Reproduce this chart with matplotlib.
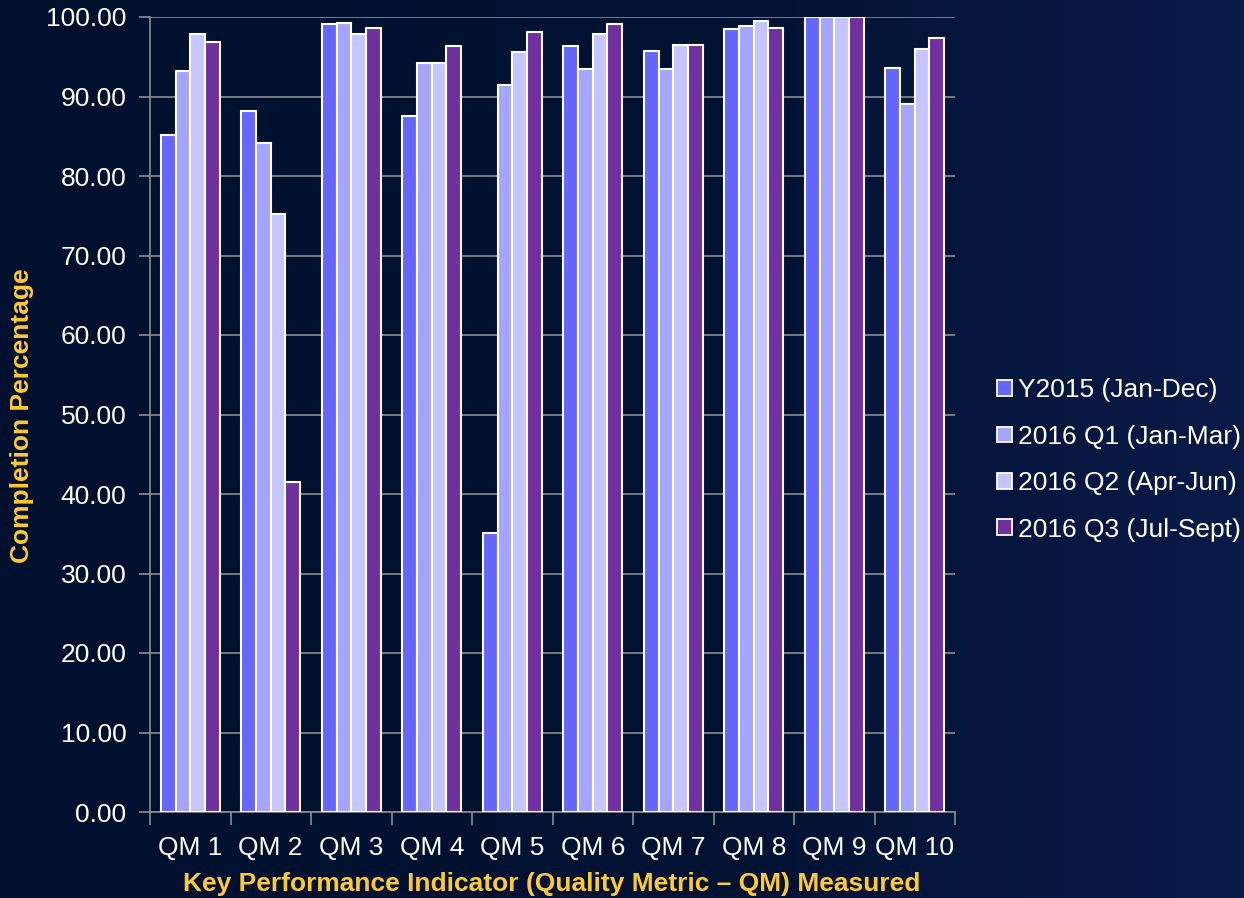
import matplotlib
matplotlib.use("Agg")
import matplotlib.pyplot as plt
import numpy as np
from matplotlib.patches import Patch
from matplotlib.colors import LinearSegmentedColormap

plt.rcParams['font.family'] = ['Liberation Sans', 'DejaVu Sans']

categories = ["QM 1", "QM 2", "QM 3", "QM 4", "QM 5", "QM 6", "QM 7", "QM 8", "QM 9", "QM 10"]
series_names = ["Y2015 (Jan-Dec)", "2016 Q1 (Jan-Mar)", "2016 Q2 (Apr-Jun)", "2016 Q3 (Jul-Sept)"]
y2015 = [85.1, 88.2, 99.1, 87.6, 35.1, 96.3, 95.7, 98.5, 100.0, 93.6]
q1_2016 = [93.2, 84.1, 99.3, 94.2, 91.5, 93.5, 93.5, 98.9, 100.0, 89.1]
q2_2016 = [97.8, 75.2, 97.8, 94.2, 95.6, 97.8, 96.5, 99.5, 100.0, 96.0]
q3_2016 = [96.9, 41.5, 98.6, 96.4, 98.1, 99.1, 96.5, 98.6, 100.0, 97.3]
yticks = [0, 10, 20, 30, 40, 50, 60, 70, 80, 90, 100]

colors = ["#6666FF", "#A5A5FF", "#C5C5FF", "#7030A0"]
series = [y2015, q1_2016, q2_2016, q3_2016]

W, H = 1244, 898
fig = plt.figure(figsize=(W / 100, H / 100), dpi=100)

# background gradient
bg = fig.add_axes([0, 0, 1, 1], zorder=-10)
cmap = LinearSegmentedColormap.from_list("bg", ["#00102E", "#011233", "#0A1A48"])
grad = np.linspace(0, 1, 256).reshape(1, -1) ** 1.3
bg.imshow(grad, aspect='auto', cmap=cmap, extent=[0, 1, 0, 1])
bg.set_axis_off()

left, right = 150 / W, 955 / W
bottom, top = 1 - 812 / H, 1 - 17 / H
ax = fig.add_axes([left, bottom, right - left, top - bottom])
ax.set_facecolor('none')

x = np.arange(len(categories))
bw = 0.183
for i, (vals, c, name) in enumerate(zip(series, colors, series_names)):
    ax.bar(x + (i - 1.5) * bw, vals, width=bw, color=c, edgecolor='white',
           linewidth=1.5, label=name, zorder=3)

ax.set_xlim(-0.5, len(categories) - 0.5)
ax.set_ylim(0, 100)
ax.set_yticks(yticks)
ax.set_yticklabels([f"{v:.2f}" for v in yticks])
ax.yaxis.grid(True, color='#8C8C8C', linewidth=1.2, zorder=0)
ax.set_axisbelow(True)

ax.set_xticks(x)
ax.set_xticklabels(categories)
ax.set_xticks(np.arange(-0.5, len(categories), 1.0), minor=True)
ax.tick_params(axis='x', which='major', length=0, pad=17, labelsize=19, colors='white')
ax.tick_params(axis='x', which='minor', length=9, width=1.2, color='#8C8C8C')
ax.tick_params(axis='y', which='major', length=8, width=1.2, color='#8C8C8C',
               pad=9, labelsize=19, labelcolor='white')

for s in ['top', 'right']:
    ax.spines[s].set_visible(False)
for s in ['left', 'bottom']:
    ax.spines[s].set_color('#8C8C8C')
    ax.spines[s].set_linewidth(1.2)

fig.text(22 / W, 1 - 416 / H, "Completion Percentage", rotation=90, ha='center',
         va='center', color='#FFC933', fontsize=19, fontweight='bold')
fig.text(552 / W, 1 - 884 / H, "Key Performance Indicator (Quality Metric \u2013 QM) Measured",
         ha='center', va='center', color='#FFC933', fontsize=19, fontweight='bold')

handles = [Patch(facecolor=c, edgecolor='white', linewidth=1.3) for c in colors]
leg = fig.legend(handles, series_names, loc='center left',
                 bbox_to_anchor=(997 / W, 1 - 460 / H), frameon=False,
                 fontsize=19, handlelength=0.55, handleheight=0.55,
                 handletextpad=0.25, labelspacing=0.85, borderpad=0, borderaxespad=0)
for t in leg.get_texts():
    t.set_color('white')

fig.savefig("out.png", dpi=100)
